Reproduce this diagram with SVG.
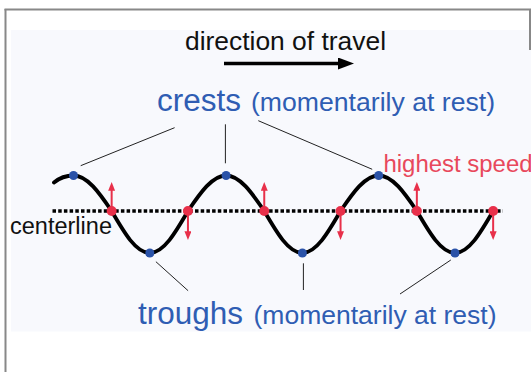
<svg xmlns="http://www.w3.org/2000/svg" width="531" height="372" viewBox="0 0 531 372">
  <defs>
    <style>
      .t { font-family: "Liberation Sans", Arial, sans-serif; }
      .blue { fill: #2f5db3; }
      .red { fill: #e8485c; }
      .blk { fill: #111; }
      .conn { stroke: #222; stroke-width: 1; fill: none; }
      .bdot { fill: #2a52a8; }
      .rdot { fill: #e8304a; }
      .rarrow { stroke: #e8304a; stroke-width: 2; fill: none; marker-end: url(#rhead); }
    </style>
    <marker id="rhead" viewBox="0 0 10 8" refX="2" refY="4" markerWidth="10" markerHeight="7" markerUnits="userSpaceOnUse" orient="auto">
      <path d="M0,0 L10,4 L0,8 Z" fill="#e8304a"/>
    </marker>
    <marker id="khead" viewBox="0 0 16 12" refX="2" refY="6" markerWidth="16" markerHeight="12" markerUnits="userSpaceOnUse" orient="auto">
      <path d="M0,0 L16,6 L0,12 Z" fill="#000"/>
    </marker>
  </defs>

  <rect x="0" y="0" width="531" height="372" fill="#ffffff"/>
  <rect x="11" y="30" width="520" height="301.5" fill="#f8f9fd"/>
  <g id="frame" stroke="#888" stroke-width="2" fill="none">
    <line x1="4.5" y1="9.5" x2="531" y2="9.5"/>
    <line x1="5.5" y1="9" x2="5.5" y2="372"/>
    <line x1="530" y1="9" x2="530" y2="50"/>
  </g>

  <g id="direction">
    <text class="t blk" x="185" y="50" font-size="26" textLength="201" lengthAdjust="spacingAndGlyphs">direction of travel</text>
    <line x1="224" y1="63.5" x2="340" y2="63.5" stroke="#000" stroke-width="3.5" marker-end="url(#khead)"/>
  </g>

  <g id="centerline">
    <line x1="52.5" y1="211" x2="503" y2="211" stroke="#000" stroke-width="3.5" stroke-dasharray="3.5 2.2"/>
    <text class="t blk" x="10" y="233.5" font-size="23.5" textLength="102" lengthAdjust="spacingAndGlyphs">centerline</text>
  </g>

  <g id="connectors" class="conn">
    <line x1="174.6" y1="127.7" x2="80.7" y2="165.7"/>
    <line x1="225.4" y1="124.3" x2="225.4" y2="163.3"/>
    <line x1="258.3" y1="120.7" x2="372.2" y2="169.3"/>
    <line x1="155.9" y1="261.7" x2="188.1" y2="290.7"/>
    <line x1="303.4" y1="263.3" x2="303.4" y2="290"/>
    <line x1="450.8" y1="260" x2="400" y2="294"/>
  </g>

  <g id="wave">
    <path d="M54,182.5 C60,177.5 66,175.5 73.5,175.5 C87.3,175.5 99.21,192.81 111.65,211 C124.09,232.52 136,253 149.8,253 C163.6,253 175.51,232.52 187.95,211 C200.39,192.81 212.3,175.5 226.1,175.5 C239.9,175.5 251.81,192.81 264.25,211 C276.69,232.52 288.6,253 302.4,253 C316.2,253 328.11,232.52 340.55,211 C352.99,192.81 364.9,175.5 378.7,175.5 C392.5,175.5 404.41,192.81 416.85,211 C429.29,232.52 441.2,253 455,253 C468.8,253 480.71,232.52 493.15,211" fill="none" stroke="#000" stroke-width="3.8" stroke-linecap="round"/>
  </g>

  <g id="speed-arrows">
    <line class="rarrow" x1="111.65" y1="211" x2="111.65" y2="189"/>
    <line class="rarrow" x1="264.25" y1="211" x2="264.25" y2="189"/>
    <line class="rarrow" x1="416.85" y1="211" x2="416.85" y2="189"/>
    <line class="rarrow" x1="187.95" y1="211" x2="187.95" y2="233"/>
    <line class="rarrow" x1="340.55" y1="211" x2="340.55" y2="233"/>
    <line class="rarrow" x1="493.15" y1="211" x2="493.15" y2="233"/>
  </g>

  <g id="crests">
    <circle class="bdot" cx="73.5" cy="175.5" r="4.5"/>
    <circle class="bdot" cx="226.1" cy="175.5" r="4.5"/>
    <circle class="bdot" cx="378.7" cy="175.5" r="4.5"/>
    <text class="t blue" x="157" y="111" font-size="31" textLength="84" lengthAdjust="spacingAndGlyphs">crests</text>
    <text class="t blue" x="251" y="111" font-size="26.5" textLength="244" lengthAdjust="spacingAndGlyphs">(momentarily at rest)</text>
  </g>

  <g id="troughs">
    <circle class="bdot" cx="149.8" cy="253" r="4.5"/>
    <circle class="bdot" cx="302.4" cy="253" r="4.5"/>
    <circle class="bdot" cx="455" cy="253" r="4.5"/>
    <text class="t blue" x="138" y="324" font-size="31" textLength="105" lengthAdjust="spacingAndGlyphs">troughs</text>
    <text class="t blue" x="253.5" y="324" font-size="26.5" textLength="243" lengthAdjust="spacingAndGlyphs">(momentarily at rest)</text>
  </g>

  <g id="highest-speed">
    <circle class="rdot" cx="111.65" cy="211" r="5"/>
    <circle class="rdot" cx="187.95" cy="211" r="5"/>
    <circle class="rdot" cx="264.25" cy="211" r="5"/>
    <circle class="rdot" cx="340.55" cy="211" r="5"/>
    <circle class="rdot" cx="416.85" cy="211" r="5"/>
    <circle class="rdot" cx="493.15" cy="211" r="5"/>
    <text class="t red" x="383.5" y="172" font-size="23.5" textLength="149" lengthAdjust="spacingAndGlyphs">highest speed</text>
  </g>
</svg>
